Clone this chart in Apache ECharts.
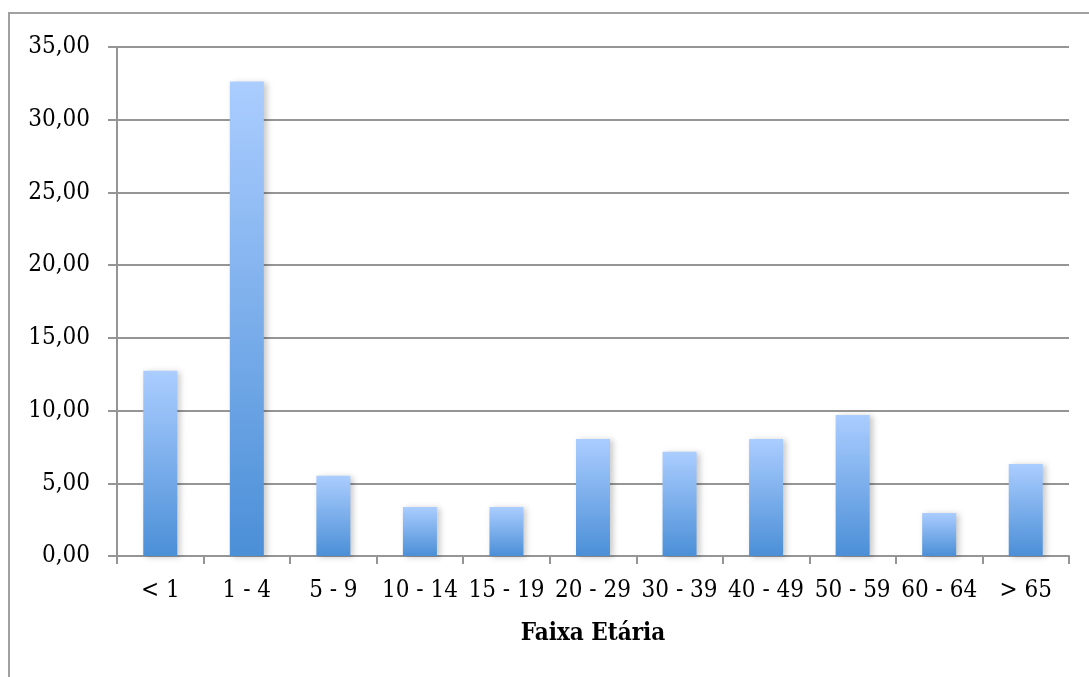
<!DOCTYPE html>
<html>
<head>
<meta charset="utf-8">
<script src="https://cdn.jsdelivr.net/npm/echarts@6/dist/echarts.min.js"></script>
<style>
  html, body { margin: 0; padding: 0; background: #ffffff; }
  #chart { width: 1089px; height: 677px; }
</style>
</head>
<body>
<div id="chart"></div>
<script>
// Age groups and their percentages
const categories = ['< 1', '1 - 4', '5 - 9', '10 - 14', '15 - 19', '20 - 29', '30 - 39', '40 - 49', '50 - 59', '60 - 64', '> 65'];
const values = [12.73, 32.62, 5.51, 3.37, 3.37, 8.05, 7.16, 8.05, 9.70, 2.96, 6.33];
const yTicks = { min: 0, max: 35, interval: 5 };
const xTitle = 'Faixa Etária';

const axisGray = '#959595';
const serif = '"DejaVu Serif Condensed", "Liberation Serif", serif';

const chart = echarts.init(document.getElementById('chart'));
chart.setOption({
  animation: false,
  backgroundColor: '#ffffff',
  graphic: [{
    type: 'rect',
    shape: { x: 9, y: 13, width: 1200, height: 800 },
    style: { fill: 'none', stroke: '#a0a0a0', lineWidth: 2 },
    silent: true
  }],
  grid: { left: 117, right: 20, top: 47, bottom: 121 },
  xAxis: {
    type: 'category',
    data: categories,
    boundaryGap: true,
    name: xTitle,
    nameLocation: 'middle',
    nameGap: 66,
    nameTextStyle: { fontFamily: serif, fontWeight: 'bold', fontSize: 24, color: '#000' },
    axisLine: { lineStyle: { color: axisGray, width: 2 } },
    axisTick: { show: true, alignWithLabel: false, length: 8, lineStyle: { color: axisGray, width: 2 } },
    axisLabel: { fontFamily: serif, fontSize: 24, color: '#000', margin: 23, interval: 0 },
    splitLine: { show: false }
  },
  yAxis: {
    type: 'value',
    min: yTicks.min,
    max: yTicks.max,
    interval: yTicks.interval,
    axisLine: { show: true, lineStyle: { color: axisGray, width: 2 } },
    axisTick: { show: true, length: 9, lineStyle: { color: axisGray, width: 2 } },
    axisLabel: {
      fontFamily: serif, fontSize: 24, color: '#000', margin: 27,
      formatter: v => v.toFixed(2).replace('.', ',')
    },
    splitLine: { show: true, lineStyle: { color: axisGray, width: 2 } }
  },
  series: [{
    type: 'bar',
    data: values,
    barWidth: 34,
    itemStyle: {
      color: new echarts.graphic.LinearGradient(0, 0, 0, 1, [
        { offset: 0, color: '#abcdff' },
        { offset: 1, color: '#4b8fd7' }
      ]),
      shadowColor: 'rgba(0,0,0,0.22)',
      shadowBlur: 6,
      shadowOffsetX: 3,
      shadowOffsetY: 1
    }
  }]
});
</script>
</body>
</html>
